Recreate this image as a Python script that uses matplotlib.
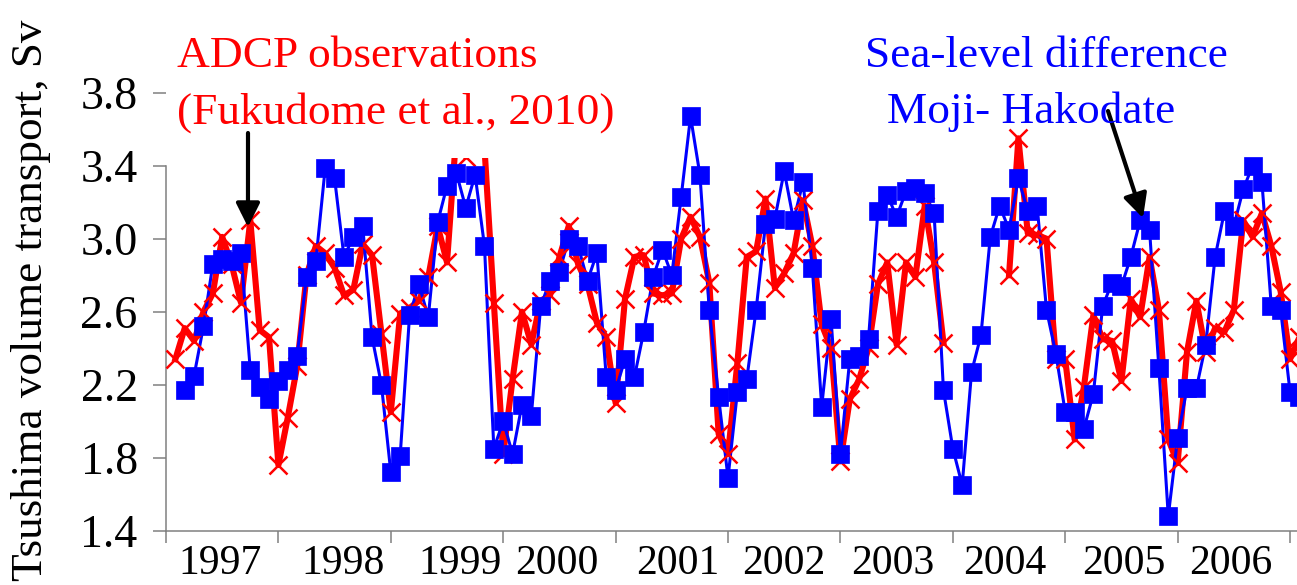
import numpy as np
import matplotlib
matplotlib.use('Agg')
import matplotlib.pyplot as plt
from matplotlib.patches import Rectangle

plt.rcParams['font.family'] = ['Liberation Serif', 'DejaVu Serif']

# months counted from the Jan 1997 tick (0 = start of 1997)
adcp_month = np.arange(1, 122)
adcp = [2.34, 2.51, 2.44, 2.60, 2.70, 3.01, 2.86, 2.65, 3.10, 2.50, 2.46, 1.76,
        2.02, 2.30, 2.80, 2.96, 2.92, 2.84, 2.69, 2.72, 2.97, 2.91, 2.48, 2.05,
        2.59, 2.62, 2.66, 2.79, 3.07, 2.87, 3.58, 3.45, 3.60, 3.50, 2.65, 1.82,
        2.23, 2.60, 2.42, 2.66, 2.69, 2.90, 3.07, 2.86, 2.75, 2.54, 2.46, 2.10,
        2.67, 2.90, 2.91, 2.70, 2.69, 2.70, 3.00, 3.12, 3.01, 2.76, 1.93, 1.82,
        2.32, 2.90, 2.93, 3.22, 2.73, 2.81, 2.92, 3.21, 2.96, 2.53, 2.40, 1.78,
        2.12, 2.23, 2.40, 2.75, 2.87, 2.42, 2.87, 2.79, 3.18, 2.87, 2.43, np.nan,
        np.nan, np.nan, np.nan, np.nan, np.nan, 2.80, 3.55, 3.03, 3.02, 3.00, 2.34, 2.34,
        1.90, 2.19, 2.58, 2.45, 2.44, 2.22, 2.67, 2.57, 2.90, 2.61, 1.90, 1.77,
        2.38, 2.66, 2.38, 2.51, 2.49, 2.61, 3.10, 3.01, 3.14, 2.96, 2.71, 2.34,
        2.46]

sld_month = np.arange(2, 122)
sld = [2.17, 2.25, 2.52, 2.86, 2.89, 2.88, 2.92, 2.28, 2.19, 2.12, 2.22, 2.28,
       2.36, 2.79, 2.88, 3.39, 3.33, 2.90, 3.01, 3.07, 2.46, 2.20, 1.72, 1.81,
       2.58, 2.75, 2.57, 3.09, 3.29, 3.36, 3.17, 3.35, 2.96, 1.85, 2.00, 1.82,
       2.09, 2.03, 2.63, 2.77, 2.82, 3.00, 2.96, 2.77, 2.92, 2.24, 2.17, 2.34,
       2.24, 2.49, 2.79, 2.94, 2.80, 3.23, 3.67, 3.35, 2.61, 2.13, 1.69, 2.16,
       2.23, 2.61, 3.08, 3.11, 3.37, 3.10, 3.31, 2.84, 2.08, 2.56, 1.82, 2.34,
       2.36, 2.45, 3.15, 3.24, 3.12, 3.26, 3.28, 3.25, 3.14, 2.17, 1.85, 1.65,
       2.27, 2.47, 3.01, 3.18, 3.05, 3.33, 3.15, 3.18, 2.61, 2.37, 2.05, 2.05,
       1.96, 2.15, 2.63, 2.76, 2.74, 2.90, 3.10, 3.05, 2.29, 1.48, 1.91, 2.18,
       2.18, 2.42, 2.90, 3.15, 3.07, 3.27, 3.40, 3.31, 2.63, 2.61, 2.16, 2.13]

years = ['1997', '1998', '1999', '2000', '2001', '2002', '2003', '2004', '2005', '2006']
year_ticks = np.arange(0, 121, 12)
yticks = [1.4, 1.8, 2.2, 2.6, 3.0, 3.4, 3.8]

# label spots were placed by hand in the original, not centred
year_label_pos = [5.8, 18.9, 31.4, 41.7, 54.6, 65.9, 77.6, 89.5, 102.3, 113.7]

RED = '#ff0000'
BLUE = '#0000ff'
GREY = '#808080'

W, H = 1297, 585
fig = plt.figure(figsize=(W / 100, H / 100), dpi=100)
ax = fig.add_axes([140 / W, (H - 530.7) / H, 1157 / W, 530.7 / H])
ax.set_xlim((140 - 166) / 9.367, (1297 - 166) / 9.367)
ax.set_ylim(1.4, 1.4 + 530.7 / 182.5)

ax.plot(adcp_month, adcp, color=RED, lw=4.4, zorder=2)
ax.plot(sld_month, sld, color=BLUE, lw=2.2, zorder=3)
ax.plot(adcp_month, adcp, ls='none', marker='x', ms=13.5, mew=1.8, color=RED, zorder=4)
ax.plot(sld_month, sld, ls='none', marker='s', ms=13, mew=0.5, color=BLUE, zorder=5)

# white box of the red caption hides the top of the 1999 peak
ax.add_patch(Rectangle((0.64, 3.442), 47.3, 1.0, facecolor='white',
                       edgecolor='none', zorder=5.5, clip_on=False))

for s in ['top', 'right']:
    ax.spines[s].set_visible(False)
ax.spines['left'].set_position(('data', 0))
ax.spines['left'].set_bounds(1.4, 3.4)
ax.spines['bottom'].set_bounds(0, ax.get_xlim()[1])
for s in ['left', 'bottom']:
    ax.spines[s].set_color(GREY)
    ax.spines[s].set_linewidth(1.1)

ax.set_yticks(yticks)
ax.set_yticklabels(['%.1f' % v for v in yticks])
ax.tick_params(axis='y', length=9.4, width=1.1, color=GREY, pad=11, labelsize=33)

ax.set_xticks(year_ticks)
ax.set_xticklabels([])
ax.set_xticks(year_label_pos, years, minor=True)
ax.tick_params(axis='x', which='major', length=8.6, width=1.1, color=GREY)
ax.tick_params(axis='x', which='minor', length=0, pad=10, labelsize=30)

fig.text(31 / W, (H - 300) / H, 'Tsushima volume transport, Sv', rotation=90,
         ha='center', va='center', fontsize=32.5)

fig.text(176.7 / W, (H - 66.7) / H, 'ADCP observations', color=RED, fontsize=32.7, va='baseline')
fig.text(176.7 / W, (H - 123.3) / H, '(Fukudome et al., 2010)', color=RED, fontsize=32.7, va='baseline')
fig.text(865 / W, (H - 66.7) / H, 'Sea-level difference', color=BLUE, fontsize=32.7, va='baseline')
fig.text(886.7 / W, (H - 123.3) / H, 'Moji- Hakodate', color=BLUE, fontsize=32.7, va='baseline')

arrow = dict(arrowstyle='-|>,head_length=0.9,head_width=0.45', lw=3, color='black',
             shrinkA=0, shrinkB=0, mutation_scale=16)
ax.annotate('', xy=(8.75, 3.064), xycoords='data', xytext=(248, H - 133),
            textcoords='figure pixels', arrowprops=arrow, zorder=6, annotation_clip=False)
ax.annotate('', xy=(104.3, 3.113), xycoords='data', xytext=(1108, H - 111),
            textcoords='figure pixels', arrowprops=arrow, zorder=6, annotation_clip=False)

fig.savefig('out.png', dpi=100)
